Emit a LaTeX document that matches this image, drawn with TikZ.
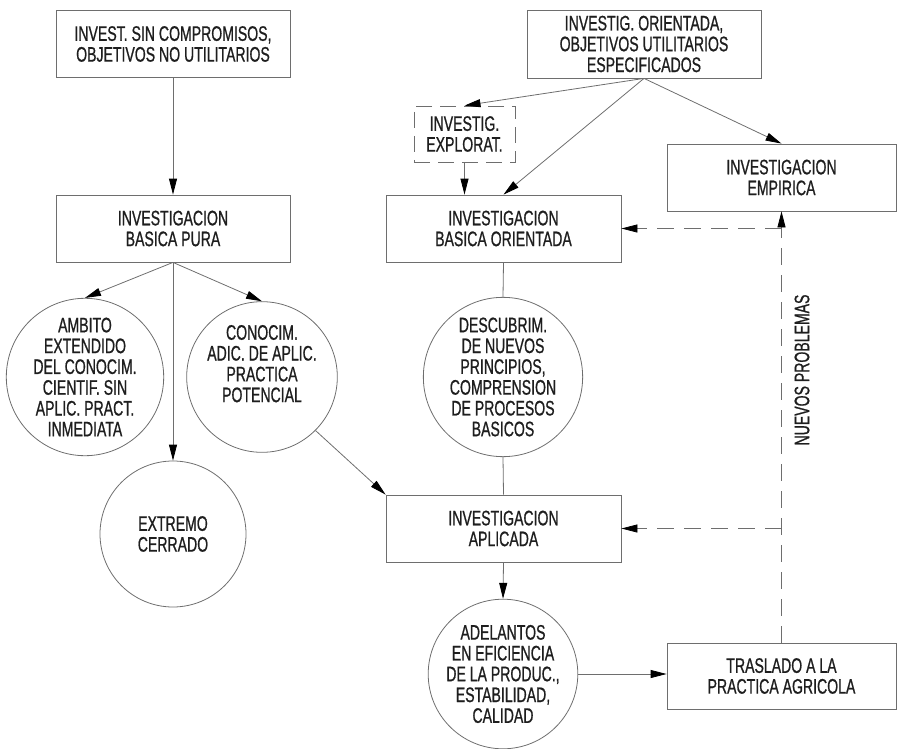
\documentclass[tikz,border=0pt]{standalone}
\usepackage{fontspec}
\setmainfont{Liberation Sans}[FakeStretch=0.67,FakeBold=0.8]
\usetikzlibrary{arrows.meta}
\definecolor{edge}{HTML}{6E6E6E}
\definecolor{ink}{HTML}{1E1E1E}
\begin{document}
\begin{tikzpicture}[x=1pt,y=-1pt,
  every node/.style={text=ink, font=\fontsize{21}{20.8}\selectfont, align=center, inner sep=0pt},
  stepbox/.style={draw=edge, line width=0.8pt, rectangle, minimum width=234pt, minimum height=67pt},
  bubble/.style={draw=edge, line width=0.8pt, circle, minimum size=#1},
  bubble/.default=145pt,
  link/.style={draw=edge, line width=0.8pt},
  tip/.style={-{Triangle[length=16pt,width=8pt,color=black]}},
  arr/.style={link, tip},
  feedback/.style={link, dash pattern=on 17pt off 10pt},
]
\useasboundingbox (0,0) rectangle (897,749);

% boxes
\node[stepbox] (A) at (173,44) {INVEST. SIN COMPROMISOS,\\OBJETIVOS NO UTILITARIOS};
\node[stepbox] (B) at (173,228.5) {INVESTIGACION\\BASICA PURA};
\node[stepbox, minimum height=68pt] (C) at (644,44) {INVESTIG. ORIENTADA,\\OBJETIVOS UTILITARIOS\\ESPECIFICADOS};
\node[stepbox, minimum width=101pt, minimum height=56pt, dash pattern=on 16pt off 8pt] (D) at (464.5,134) {INVESTIG.\\EXPLORAT.};
\node[stepbox, minimum width=235pt] (E) at (503.5,228.5) {INVESTIGACION\\BASICA ORIENTADA};
\node[stepbox, minimum width=229pt] (F) at (781.5,177.5) {INVESTIGACION\\EMPIRICA};
\node[stepbox, minimum width=235pt] (G) at (503.5,528.5) {INVESTIGACION\\APLICADA};
\node[stepbox, minimum width=229pt, minimum height=66pt] (I) at (781.5,676) {TRASLADO A LA\\PRACTICA AGRICOLA};

% circles
\node[bubble] (J) at (85,377) {AMBITO\\EXTENDIDO\\DEL CONOCIM.\\CIENTIF. SIN\\APLIC. PRACT.\\INMEDIATA};
\node[bubble] (K) at (262,377) {CONOCIM.\\ADIC. DE APLIC.\\PRACTICA\\POTENCIAL\\[6pt]};
\node[bubble=146pt] (L) at (173,534) {EXTREMO\\CERRADO};
\node[bubble=146pt] (M) at (503,377) {DESCUBRIM.\\DE NUEVOS\\PRINCIPIOS,\\COMPRENSION\\DE PROCESOS\\BASICOS};
\node[bubble=146pt] (H) at (503,674) {ADELANTOS\\EN EFICIENCIA\\DE LA PRODUC.,\\ESTABILIDAD,\\CALIDAD};

\node[rotate=90] (np) at (802,370) {NUEVOS PROBLEMAS};

% solid connectors
\draw[arr] (A.south) -- (B.north);
\draw[arr] (B.south) -- (J.north);
\draw[arr] (B.south) -- (K.north);
\draw[arr] (B.south) -- (L.north);
\draw[arr] (C.south) -- (D.north);
\draw[arr] (C.south) -- (E.north);
\draw[arr] (C.south) -- (F.north);
\draw[arr] (D.south) -- (D.south |- E.north);
\draw[link] (E.south) -- (M.north);
\draw[link] (M.south) -- (G.north);
\draw[arr] (K.-45) -- (G.north west);
\draw[arr] (G.south) -- (H.north);
\draw[arr] (H.east) -- (H.east -| I.west);

% feedback (dashed)
\draw[feedback, tip] (I.north) -- (F.south);
\draw[feedback, tip] (E.east -| I.north) -- (E.east);
\draw[feedback, tip] (G.east -| I.north) -- (G.east);
\end{tikzpicture}
\end{document}
